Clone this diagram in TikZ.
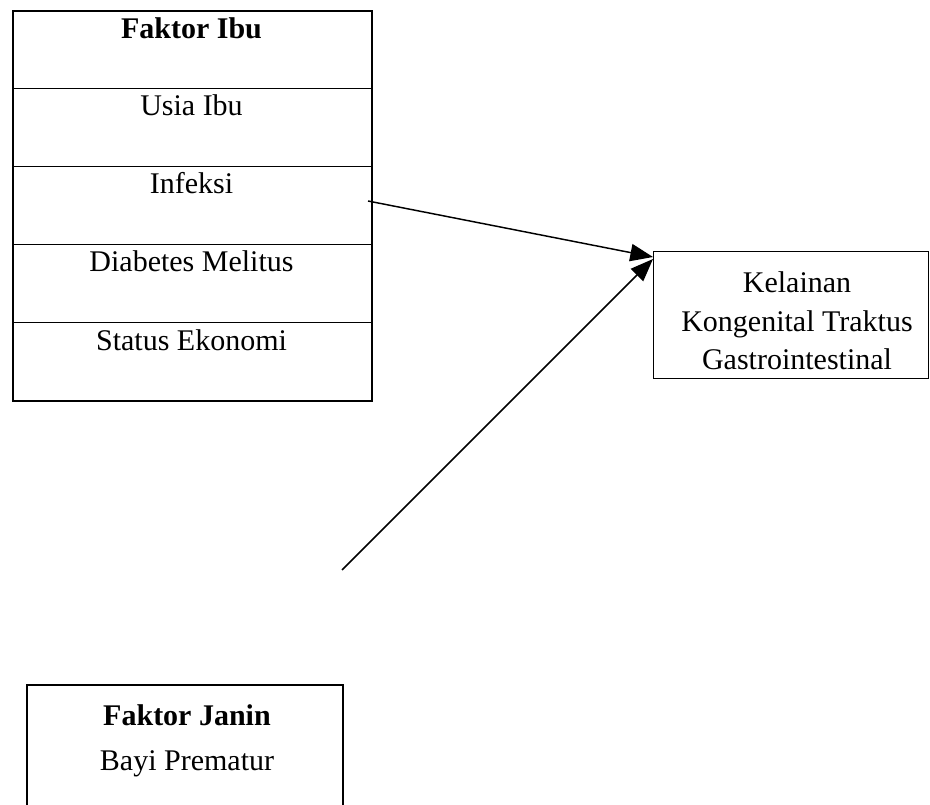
\documentclass[tikz,border=0pt]{standalone}
\usepackage{fontspec}
\setmainfont{Liberation Serif}
\usetikzlibrary{arrows.meta}
\begin{document}
\begin{tikzpicture}[x=0.75pt,y=-0.75pt,
  txt/.style={font=\fontsize{22.5}{29.25}\selectfont, inner sep=0pt, anchor=base, align=center},
  cellbox/.style={draw, line width=1.1pt, minimum width=269.25pt, minimum height=58.5pt, inner sep=0pt, anchor=north west},
  conn/.style={line width=1.1pt, -{Triangle[length=17pt,width=13pt]}}]
\useasboundingbox (0,0) rectangle (930,805);
% Faktor Ibu box
\node (c1) [cellbox] at (12,10) {};
\node (c2) [cellbox] at (12,88) {};
\node (c3) [cellbox] at (12,166) {};
\node (c4) [cellbox] at (12,244) {};
\node (c5) [cellbox, line width=0.8pt] at (12,322) {};
\node (ibu) [draw, line width=1.6pt, minimum width=269.25pt, minimum height=292.5pt, inner sep=0pt, anchor=north west] at (12,10) {};
\node (t1) [txt, font=\fontsize{22.5}{29.25}\selectfont\bfseries] at (191.5,39) {Faktor Ibu};
\node (t2) [txt] at (191.5,116) {Usia Ibu};
\node (t3) [txt] at (191.5,194) {Infeksi};
\node (t4) [txt] at (191.5,272) {Diabetes Melitus};
\node (t5) [txt] at (191.5,350) {Status Ekonomi};
% Kelainan box
\node (kel) [draw, line width=1.1pt, minimum width=206.25pt, minimum height=95.25pt, inner sep=0pt, anchor=north west] at (653,251) {};
\node (k1) [txt] at (797,292) {Kelainan};
\node (k2) [txt] at (797,331) {Kongenital Traktus};
\node (k3) [txt] at (797,369) {Gastrointestinal};
% Faktor Janin box (open at bottom)
\coordinate (jbl) at (27,810);
\coordinate (jtl) at (27,685);
\coordinate (jtr) at (343,685);
\coordinate (jbr) at (343,810);
\draw[line width=1.1pt] (jbl) -- (jtl) -- (jtr) -- (jbr);
\node (j1) [txt, font=\fontsize{22.5}{29.25}\selectfont\bfseries] at (187,725) {Faktor Janin};
\node (j2) [txt] at (187,770) {Bayi Prematur};
% connectors
\coordinate (s1) at (368,201);
\coordinate (s2) at (342,570);
\coordinate (e1) at (653,257);
\coordinate (e2) at (653,259);
\draw[conn] (s1) -- (e1);
\draw[conn] (s2) -- (e2);
\end{tikzpicture}
\end{document}
